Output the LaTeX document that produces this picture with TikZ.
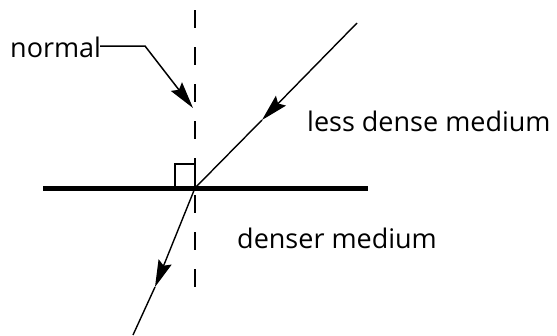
\documentclass[tikz,border=0pt]{standalone}
\usepackage{fontspec}
\setmainfont{Open Sans}
\usetikzlibrary{arrows.meta}
\begin{document}
\begin{tikzpicture}[x=1pt,y=-1pt,
  lbl/.style={font=\fontsize{27}{30}\selectfont, inner sep=0pt, anchor=base west},
  ray/.style={line width=1.4pt},
  head/.style={-{Stealth[length=27pt,width=14pt,inset=4pt]}},
  normline/.style={line width=2pt, dash pattern=on 18pt off 19pt},
  iface/.style={line width=5pt}]
\useasboundingbox (0,0) rectangle (557,335);
% points
\coordinate (O) at (195,188);
\coordinate (ntop) at (195,10);
\coordinate (nbot) at (195,292);
\coordinate (ileft) at (43,188);
\coordinate (iright) at (368,188);
\coordinate (inA) at (357,23);
\coordinate (inTip) at (262,120);
\coordinate (rfTip) at (155,287);
\coordinate (rfEnd) at (133,335);
\coordinate (kneeA) at (100,46);
\coordinate (kneeB) at (145,46);
\coordinate (nTip) at (193,108);
% normal
\draw[normline] (ntop) -- (nbot);
% interface
\draw[iface] (ileft) -- (iright);
% right angle box
\draw[line width=1.6pt] (175,186) -- (175,164) -- (195,164) -- (195,186);
% incident ray
\draw[ray,head] (inA) -- (inTip);
\draw[ray] (inTip) -- (O);
% refracted ray
\draw[ray,head] (O) -- (rfTip);
\draw[ray] (rfTip) -- (rfEnd);
% labels
\node[lbl] (normal) at (10,57) {normal};
\draw[line width=1.5pt,head] (kneeA) -- (kneeB) -- (nTip);
\node[lbl] (less) at (307,131) {less dense medium};
\node[lbl] (denser) at (237,248) {denser medium};
\end{tikzpicture}
\end{document}
